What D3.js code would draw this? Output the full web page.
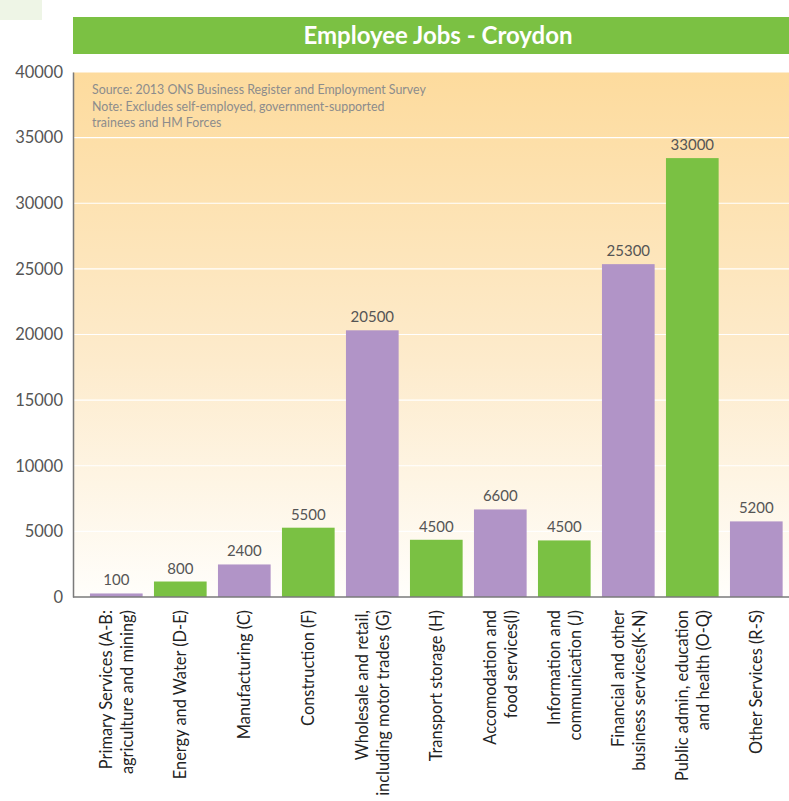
<!DOCTYPE html>
<html>
<head>
<meta charset="utf-8">
<script src="https://cdn.jsdelivr.net/npm/d3@7"></script>
<style>
  html, body { margin: 0; padding: 0; background: #ffffff; }
  svg { display: block; }
</style>
</head>
<body>
<script>
// ---- data ----
const categories = [
  ["Primary Services (A-B:", "agriculture and mining)"],
  ["Energy and Water (D-E)"],
  ["Manufacturing (C)"],
  ["Construction (F)"],
  ["Wholesale and retail,", "including motor trades (G)"],
  ["Transport storage (H)"],
  ["Accomodation and", "food services(I)"],
  ["Information and", "communication (J)"],
  ["Financial and other", "business services(K-N)"],
  ["Public admin, education", "and health (O-Q)"],
  ["Other Services (R-S)"]
];
const barValues = [270, 1180, 2480, 5280, 20320, 4360, 6670, 4310, 25360, 33440, 5760];
const valueLabels = ["100", "800", "2400", "5500", "20500", "4500", "6600", "4500", "25300", "33000", "5200"];
const yTicks = [0, 5000, 10000, 15000, 20000, 25000, 30000, 35000, 40000];
const titleText = "Employee Jobs - Croydon";
const noteLines = [
  "Source: 2013 ONS Business Register and Employment Survey",
  "Note: Excludes self-employed, government-supported",
  "trainees and HM Forces"
];

// ---- layout ----
const W = 789, H = 801;
const plotLeft = 73, plotRight = 789, plotTop = 72, plotBottom = 597;
const purple = "#b194c7", green = "#7ac143";
const font = "Lato, 'Open Sans', sans-serif";

const svg = d3.select("body").append("svg").attr("width", W).attr("height", H);

const defs = svg.append("defs");
const grad = defs.append("linearGradient").attr("id", "bg").attr("x1", 0).attr("y1", 0).attr("x2", 0).attr("y2", 1);
grad.append("stop").attr("offset", "0%").attr("stop-color", "#fddb9d");
grad.append("stop").attr("offset", "55%").attr("stop-color", "#fdebcc");
grad.append("stop").attr("offset", "100%").attr("stop-color", "#fffefb");

// small light block top-left
svg.append("rect").attr("x", 0).attr("y", 0).attr("width", 42).attr("height", 20).attr("fill", "#eef5e6");

// title banner
svg.append("rect").attr("x", 73).attr("y", 17).attr("width", 716).attr("height", 37).attr("fill", "#7bc143");
svg.append("text").attr("x", 438).attr("y", 34).attr("text-anchor", "middle").attr("dominant-baseline", "central")
  .attr("fill", "#ffffff").attr("font-family", font).attr("font-weight", "bold").attr("font-size", 24)
  .text(titleText);

// plot background
svg.append("rect").attr("x", plotLeft).attr("y", plotTop).attr("width", plotRight - plotLeft).attr("height", plotBottom - plotTop)
  .attr("fill", "url(#bg)");

const y = d3.scaleLinear().domain([0, 40000]).range([plotBottom, plotTop]);
const x = d3.scaleBand().domain(d3.range(categories.length)).range([84.3, 788.3]).paddingInner(0.177).paddingOuter(0.0885);

// gridlines
svg.append("g").selectAll("line").data(yTicks.filter(d => d > 0)).join("line")
  .attr("x1", plotLeft).attr("x2", plotRight)
  .attr("y1", d => y(d)).attr("y2", d => y(d))
  .attr("stroke", "#ffffff").attr("stroke-width", 1.2);

// y axis
const yAxis = d3.axisLeft(y).tickValues(yTicks).tickSize(0).tickPadding(10).tickFormat(d => String(d));
const gy = svg.append("g").attr("transform", `translate(${plotLeft},0)`).call(yAxis);
gy.select(".domain").attr("stroke", "#7a7a7a").attr("stroke-width", 1.5);
gy.selectAll("text").attr("font-family", font).attr("font-size", 16.5).attr("fill", "#555555");

// bars
svg.append("g").selectAll("rect").data(barValues).join("rect")
  .attr("x", (d, i) => x(i)).attr("width", x.bandwidth())
  .attr("y", d => y(d)).attr("height", d => plotBottom - y(d))
  .attr("fill", (d, i) => i % 2 === 0 ? purple : green);

// value labels
svg.append("g").selectAll("text").data(barValues).join("text")
  .attr("x", (d, i) => x(i) + x.bandwidth() / 2).attr("y", d => y(d) - 8)
  .attr("text-anchor", "middle").attr("font-family", font).attr("font-size", 15).attr("fill", "#555555")
  .text((d, i) => valueLabels[i]);

// x axis line
const xAxis = d3.axisBottom(x).tickSize(0).tickFormat("");
const gx = svg.append("g").attr("transform", `translate(0,${plotBottom})`).call(xAxis);
gx.select(".domain").attr("d", `M${plotLeft},0H${plotRight}`).attr("stroke", "#7a7a7a").attr("stroke-width", 1.5);

// x labels (rotated)
const lineGap = 21;
const xl = svg.append("g");
categories.forEach((lines, i) => {
  const cx = x(i) + x.bandwidth() / 2;
  const n = lines.length;
  lines.forEach((ln, j) => {
    const off = (j - (n - 1) / 2) * lineGap;
    xl.append("text")
      .attr("transform", `translate(${cx + off},610) rotate(-90)`)
      .attr("text-anchor", "end").attr("dy", "0.35em")
      .attr("font-family", font).attr("font-size", 16.4).attr("fill", "#222222")
      .text(ln);
  });
});

// note
const nt = svg.append("g");
noteLines.forEach((t, i) => {
  nt.append("text").attr("x", 92).attr("y", 94 + i * 16.5)
    .attr("font-family", font).attr("font-size", 12.4).attr("fill", "#8c8c8c").text(t);
});
</script>
</body>
</html>
